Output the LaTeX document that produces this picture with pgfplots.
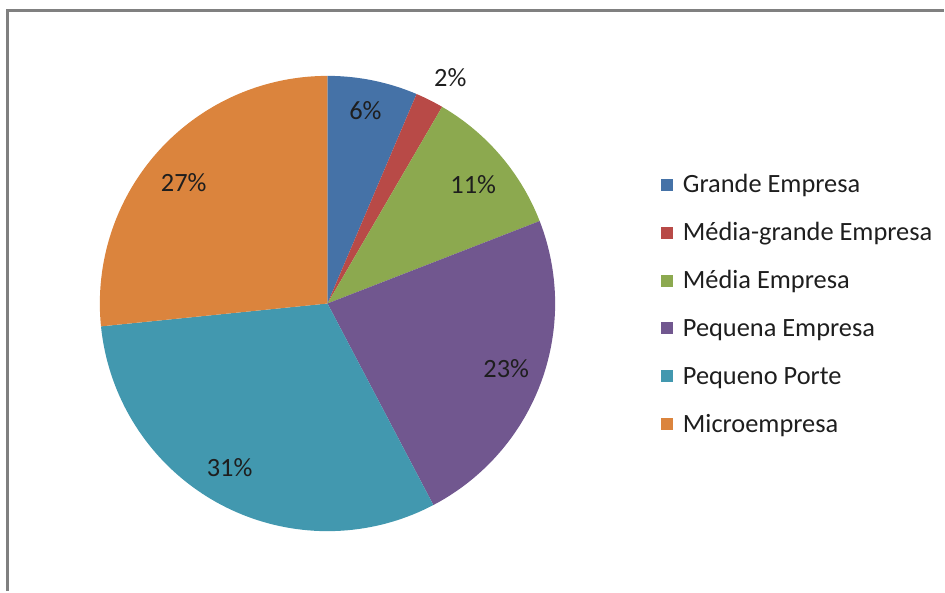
\documentclass[border=0pt]{standalone}
\usepackage{fontspec}
\setmainfont{Carlito}
\usepackage{pgfplots}
\pgfplotsset{compat=1.18}

\definecolor{cBlue}{HTML}{4572A7}
\definecolor{cRed}{HTML}{B84A47}
\definecolor{cGreen}{HTML}{8CA94F}
\definecolor{cPurple}{HTML}{71578F}
\definecolor{cTeal}{HTML}{4298AF}
\definecolor{cOrange}{HTML}{DB843D}
\definecolor{cText}{HTML}{1E1E1E}

% shares in percent, clockwise from 12 o'clock
\pgfmathsetmacro\aA{0}
\pgfmathsetmacro\aB{\aA+3.6*6.4}   % Grande Empresa
\pgfmathsetmacro\aC{\aB+3.6*2.0}   % Media-grande Empresa
\pgfmathsetmacro\aD{\aC+3.6*10.7}  % Media Empresa
\pgfmathsetmacro\aE{\aD+3.6*23.2}  % Pequena Empresa
\pgfmathsetmacro\aF{\aE+3.6*31.1}  % Pequeno Porte
\pgfmathsetmacro\aG{\aF+3.6*26.6}  % Microempresa

\begin{document}
\begin{tikzpicture}
\begin{axis}[
  width=472.5pt, height=296pt, scale only axis,
  xmin=0, xmax=945, ymin=0, ymax=592,
  hide axis, clip=false,
  samples=80,
  legend cell align=left,
  legend image code/.code={\fill[#1] (0pt,-3pt) rectangle (6pt,3pt);},
  legend style={draw=none, fill=none, inner sep=0pt, outer sep=0pt,
    at={(axis cs:662,287)}, anchor=west,
    font=\fontsize{13.2}{15}\selectfont, text=cText, row sep=12pt,
    nodes={inner sep=0pt, text height=10pt, text depth=2pt},
    /tikz/every odd column/.append style={column sep=5pt}},
]
\addplot[fill=cBlue, draw=none, domain=\aA:\aB] ({328+228*sin(x)}, {288+228*cos(x)}) -- (axis cs:328,288) -- cycle;
\addlegendentry{Grande Empresa}
\addplot[fill=cRed, draw=none, domain=\aB:\aC] ({328+228*sin(x)}, {288+228*cos(x)}) -- (axis cs:328,288) -- cycle;
\addlegendentry{Média-grande Empresa}
\addplot[fill=cGreen, draw=none, domain=\aC:\aD] ({328+228*sin(x)}, {288+228*cos(x)}) -- (axis cs:328,288) -- cycle;
\addlegendentry{Média Empresa}
\addplot[fill=cPurple, draw=none, domain=\aD:\aE] ({328+228*sin(x)}, {288+228*cos(x)}) -- (axis cs:328,288) -- cycle;
\addlegendentry{Pequena Empresa}
\addplot[fill=cTeal, draw=none, domain=\aE:\aF] ({328+228*sin(x)}, {288+228*cos(x)}) -- (axis cs:328,288) -- cycle;
\addlegendentry{Pequeno Porte}
\addplot[fill=cOrange, draw=none, domain=\aF:\aG] ({328+228*sin(x)}, {288+228*cos(x)}) -- (axis cs:328,288) -- cycle;
\addlegendentry{Microempresa}

\begin{scope}[every node/.style={anchor=base, inner sep=0pt, text=cText, font=\fontsize{13.2}{15}\selectfont}]
\node at (axis cs:366,472) {6\%};
\node at (axis cs:451,505) {2\%};
\node at (axis cs:474,398) {11\%};
\node at (axis cs:507,214) {23\%};
\node at (axis cs:230,115) {31\%};
\node at (axis cs:184,400) {27\%};
\end{scope}

\draw[line width=1.5pt, color=black!50] (axis cs:8,0) -- (axis cs:8,581) -- (axis cs:945,581);
\path (axis cs:0,0) rectangle (axis cs:945,592);
\end{axis}
\end{tikzpicture}
\end{document}
